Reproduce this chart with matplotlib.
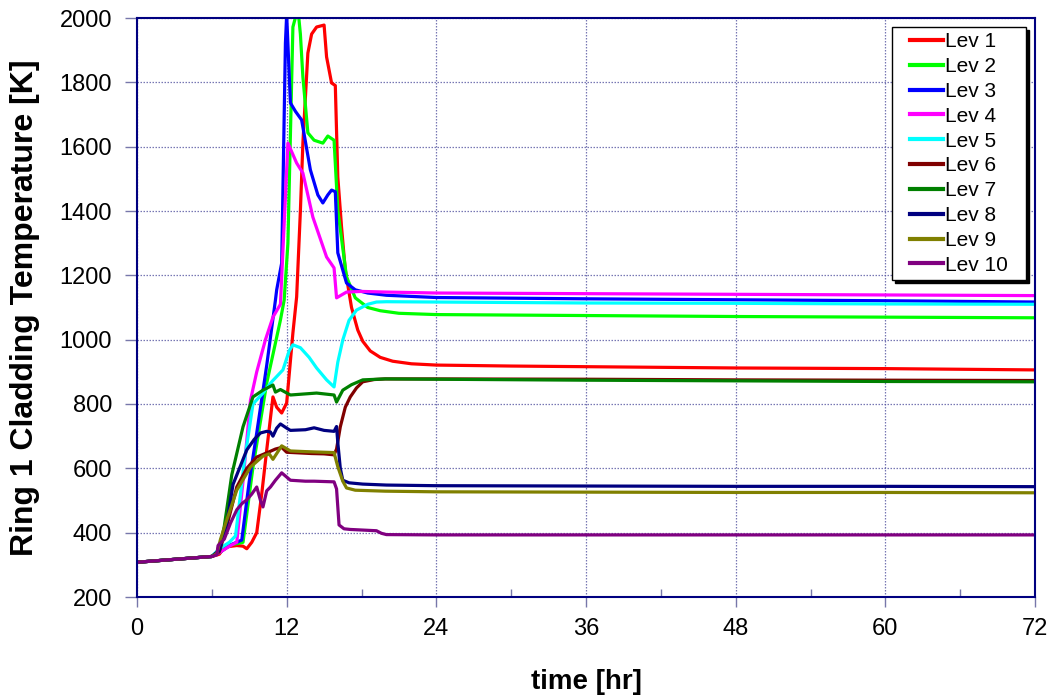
import matplotlib
matplotlib.use("Agg")
import matplotlib.pyplot as plt
from matplotlib.ticker import MultipleLocator

# time [hr] / cladding temperature [K], one pair per level
t_lev1 = [0, 6, 6.6, 7.0, 8.0, 8.5, 8.8, 9.2, 9.6, 10.0, 10.4, 10.9, 11.2, 11.6, 12.0,
          12.5, 12.8, 13.1, 13.3, 13.7, 14.0, 14.4, 15.0, 15.2, 15.6, 15.9, 16.1, 16.4,
          16.7, 17.2, 17.7, 18.1, 18.7, 19.5, 20.5, 22, 24, 30, 36, 48, 60, 72]
T_lev1 = [308, 326, 333, 355, 360, 358, 350, 370, 400, 520, 657, 822, 790, 772, 803,
          1021, 1133, 1400, 1611, 1891, 1950, 1972, 1978, 1879, 1798, 1790, 1506, 1350,
          1217, 1100, 1030, 995, 965, 945, 933, 925, 921, 918, 916, 912, 910, 906]

t_lev2 = [0, 6, 6.6, 7.5, 8.5, 9.3, 10.4, 11.5, 11.8, 12.1, 12.5, 12.9, 13.1, 13.3, 13.7,
          14.2, 14.9, 15.3, 15.8, 16.1, 16.8, 17.5, 18.5, 19.5, 21, 24, 36, 48, 60, 72]
T_lev2 = [308, 326, 338, 362, 370, 604, 865, 1061, 1123, 1300, 1972, 2030, 1950, 1817, 1643,
          1620, 1611, 1633, 1620, 1403, 1195, 1130, 1100, 1090, 1082, 1078, 1075, 1072, 1070, 1068]

t_lev3 = [0, 6, 6.6, 7.5, 8.4, 9.0, 9.6, 10.4, 11.1, 11.2, 11.6, 11.9, 12.0, 12.3, 12.7,
          13.2, 13.9, 14.5, 14.9, 15.3, 15.6, 15.9, 16.1, 16.8, 17.5, 18.5, 20, 24, 36, 48, 60, 72]
T_lev3 = [308, 326, 338, 362, 377, 560, 710, 920, 1123, 1155, 1238, 1922, 2010, 1736, 1710,
          1683, 1528, 1450, 1425, 1450, 1465, 1460, 1270, 1176, 1155, 1145, 1138, 1131, 1127,
          1124, 1121, 1117]

t_lev4 = [0, 6, 6.6, 7.5, 8.0, 8.5, 9.1, 9.6, 10.3, 10.9, 11.5, 12.1, 12.8, 13.3, 14.1,
          15.2, 15.8, 16.0, 16.8, 18, 20, 24, 36, 48, 60, 72]
T_lev4 = [308, 326, 338, 360, 370, 560, 812, 900, 1000, 1070, 1110, 1611, 1549, 1518, 1381,
          1257, 1223, 1130, 1148, 1150, 1148, 1145, 1143, 1141, 1139, 1137]

t_lev5 = [0, 6, 6.6, 7.4, 7.9, 8.6, 9.3, 10.1, 10.8, 11.7, 12.2, 12.5, 13.1, 13.8, 14.4,
          15.2, 15.8, 16.1, 16.5, 17.0, 17.6, 18.5, 19.2, 20, 24, 36, 48, 60, 72]
T_lev5 = [308, 326, 350, 370, 390, 620, 800, 834, 869, 906, 965, 984, 975, 945, 912,
          875, 853, 930, 999, 1060, 1092, 1110, 1117, 1118, 1117, 1114, 1113, 1111, 1110]

t_lev6 = [0, 6, 6.6, 7.2, 8.0, 8.8, 9.6, 10.4, 11.1, 11.6, 12.0, 13, 14, 15.0, 15.8, 16.0,
          16.3, 16.7, 17.1, 17.6, 18.1, 19, 19.9, 24, 36, 48, 60, 72]
T_lev6 = [308, 326, 340, 420, 542, 600, 635, 648, 660, 665, 650, 648, 646, 645, 642, 660,
          729, 790, 822, 850, 869, 876, 878, 878, 877, 875, 874, 873]

t_lev7 = [0, 6, 6.6, 7.0, 7.6, 8.5, 9.3, 10.1, 10.9, 11.1, 11.5, 12.3, 13, 14.4, 15.8,
          16.0, 16.5, 17.2, 18.1, 19.9, 24, 36, 48, 60, 72]
T_lev7 = [308, 326, 345, 420, 580, 729, 822, 843, 859, 837, 845, 828, 830, 834, 828,
          806, 843, 860, 875, 878, 877, 874, 872, 870, 869]

t_lev8 = [0, 6, 6.6, 7.2, 7.7, 8.8, 9.4, 9.9, 10.4, 10.7, 10.9, 11.2, 11.5, 12.0, 12.3,
          13.5, 14.2, 15.0, 15.8, 16.0, 16.1, 16.3, 16.5, 17, 18.1, 20, 24, 36, 48, 60, 72]
T_lev8 = [308, 326, 345, 430, 550, 657, 690, 710, 715, 713, 700, 725, 738, 725, 718,
          720, 726, 718, 715, 730, 680, 600, 563, 555, 551, 548, 546, 545, 544, 544, 543]

t_lev9 = [0, 6, 6.4, 6.7, 7.2, 8.0, 9.1, 10.1, 10.6, 10.9, 11.6, 12.3, 13.5, 15.0, 15.8,
          16.1, 16.5, 16.8, 17.5, 19.9, 24, 36, 48, 60, 72]
T_lev9 = [308, 326, 335, 380, 440, 532, 604, 638, 645, 628, 670, 654, 652, 650, 649,
          605, 560, 539, 532, 529, 527, 526, 525, 525, 524]

t_lev10 = [0, 6, 6.4, 6.5, 7.0, 7.5, 8.0, 8.4, 8.8, 9.2, 9.6, 9.9, 10.1, 10.4, 10.7, 11.1,
           11.6, 12.3, 13.5, 14.2, 15.8, 16.0, 16.2, 16.6, 17.1, 19.2, 19.6, 20.0, 24, 36,
           48, 60, 72]
T_lev10 = [308, 326, 331, 360, 380, 430, 471, 490, 502, 520, 542, 500, 480, 530, 542, 563,
           586, 563, 560, 560, 558, 536, 424, 412, 410, 406, 398, 394, 393, 393, 393, 393, 393]

labels = ["Lev 1", "Lev 2", "Lev 3", "Lev 4", "Lev 5",
          "Lev 6", "Lev 7", "Lev 8", "Lev 9", "Lev 10"]
times = [t_lev1, t_lev2, t_lev3, t_lev4, t_lev5, t_lev6, t_lev7, t_lev8, t_lev9, t_lev10]
temps = [T_lev1, T_lev2, T_lev3, T_lev4, T_lev5, T_lev6, T_lev7, T_lev8, T_lev9, T_lev10]
colors = ["#ff0000", "#00ff00", "#0000ff", "#ff00ff", "#00ffff",
          "#800000", "#008000", "#000080", "#808000", "#800080"]

plt.rcParams["font.family"] = ["Liberation Sans", "DejaVu Sans"]
navy = "#000080"

fig = plt.figure(figsize=(10.55, 6.96), dpi=100)
ax = fig.add_axes([137 / 1055, 99 / 696, 898 / 1055, 579 / 696])

for t, T, c, lab in zip(times, temps, colors, labels):
    ax.plot(t, T, color=c, lw=2.3, label=lab, solid_joinstyle="round")

ax.set_xlim(0, 72)
ax.set_ylim(200, 2000)
ax.xaxis.set_major_locator(MultipleLocator(12))
ax.xaxis.set_minor_locator(MultipleLocator(6))
ax.yaxis.set_major_locator(MultipleLocator(200))

ax.grid(True, which="major", color="#5555a0", ls=(0, (1.2, 1.2)), lw=0.9, alpha=0.8)
for s in ax.spines.values():
    s.set_color(navy)
    s.set_linewidth(1.5)

ax.tick_params(axis="x", which="major", direction="out", length=7, width=1,
               color="#7777aa", labelsize=17, pad=8)
ax.tick_params(axis="x", which="minor", direction="in", length=6, width=1, color="#7777aa")
ax.tick_params(axis="y", which="major", direction="out", length=9, width=1,
               color="#7777aa", labelsize=17, pad=9)

ax.set_xlabel("time [hr]", fontsize=20, fontweight="bold")
ax.set_ylabel("Ring 1 Cladding Temperature [K]", fontsize=23, fontweight="bold")
ax.xaxis.set_label_coords(0.5, -0.125)
ax.yaxis.set_label_coords(-0.108, 0.5)

# legend box spans x 892..1026, y 27..283 px in the reference
leg = ax.legend(loc="upper left", bbox_to_anchor=(0.8408, 0.5423, 0.1492, 0.4421),
                mode="expand", borderaxespad=0,
                fontsize=15, handlelength=2.2, handletextpad=0.1, labelspacing=0.28,
                fancybox=False, framealpha=1, edgecolor="black",
                shadow={"color": "black", "alpha": 1}, borderpad=0.25)
leg.get_frame().set_linewidth(1.0)
for line in leg.get_lines():
    line.set_linewidth(3)
    xd, yd = line.get_xdata(), line.get_ydata()
    x0, x1 = xd[0], xd[-1]
    line.set_data([x1 - (x1 - x0) * 33 / 46, x1], [yd[0], yd[-1]])

fig.savefig("out.png", dpi=100)
